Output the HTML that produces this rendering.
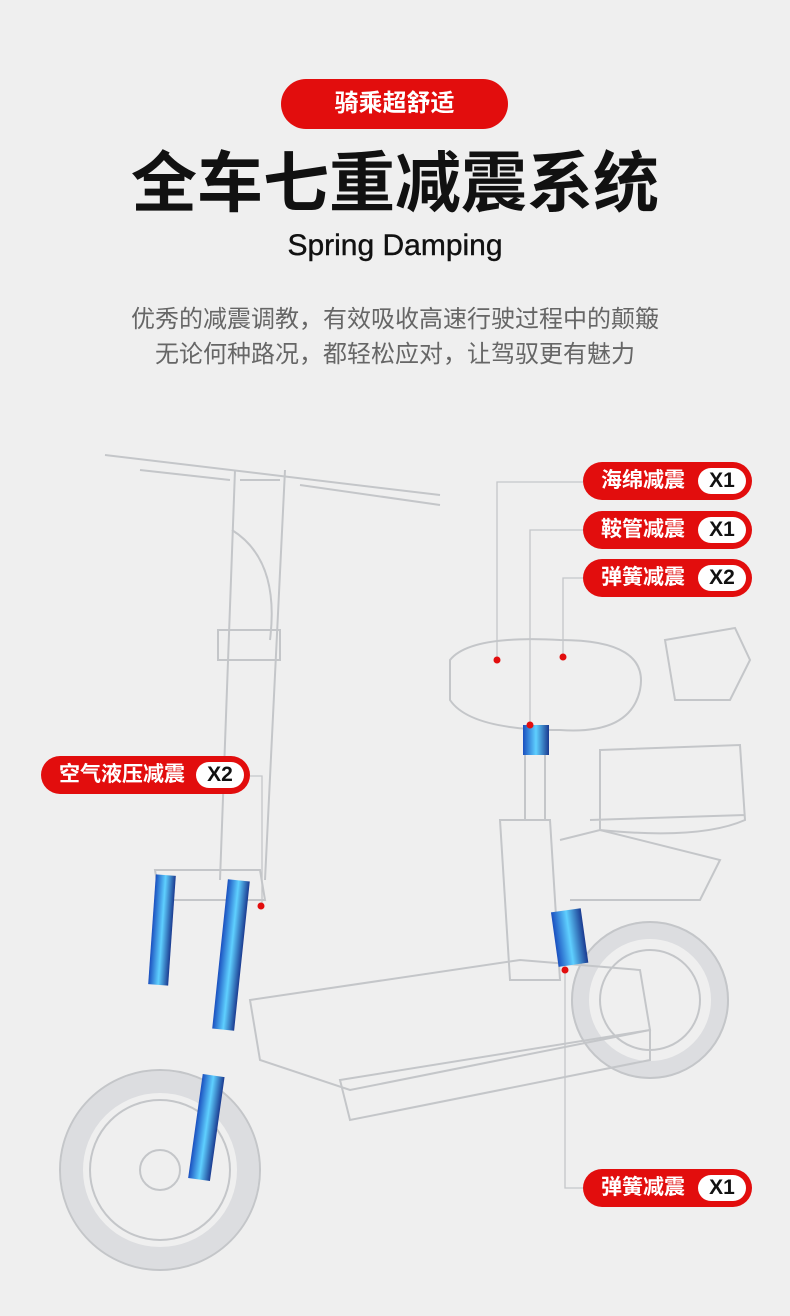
<!DOCTYPE html>
<html><head><meta charset="utf-8"><style>
body{margin:0;width:790px;height:1316px;background:#efefef;overflow:hidden;font-family:"Liberation Sans","Noto Sans CJK SC",sans-serif;position:relative}
.t{position:absolute;left:0;width:790px;text-align:center}
.pill{position:absolute;background:#e20d0d;border-radius:20px;height:38px;color:#fff;font-size:21px;font-weight:bold;line-height:38px;box-sizing:border-box;padding-left:18px;white-space:nowrap}
.pill span{position:absolute;right:6px;top:6px;height:26px;width:48px;background:#fff;border-radius:13px;color:#111;font-family:"Liberation Sans",sans-serif;font-size:21px;line-height:26px;text-align:center}
</style></head><body>
<div style="position:absolute;left:281px;top:79px;width:227px;height:50px;background:#e20d0d;border-radius:25px;color:#fff;font-size:24px;font-weight:bold;line-height:50px;text-align:center">骑乘超舒适</div>
<div class="t" style="top:140px;font-size:66px;font-weight:bold;color:#111;line-height:86px">全车七重减震系统</div>
<div class="t" style="top:229px;font-size:30px;color:#111;-webkit-text-stroke:0.4px #111">Spring Damping</div>
<div class="t" style="top:302px;font-size:24px;color:#666;line-height:35px">优秀的减震调教，有效吸收高速行驶过程中的颠簸<br>无论何种路况，都轻松应对，让驾驭更有魅力</div>
<svg width="790" height="1316" style="position:absolute;left:0;top:0" fill="none" stroke="#c4c6c9" stroke-width="2">
<path d="M105 455 L440 495 M140 470 L230 480 M300 485 L440 505"/>
<path d="M235 470 L220 880 M285 470 L265 880 M240 480 L280 480"/>
<path d="M232 530 Q280 560 270 640"/>
<rect x="218" y="630" width="62" height="30"/>
<path d="M155 870 L260 870 L265 900 L160 900 Z"/>
<circle cx="160" cy="1170" r="88" stroke-width="22" stroke="#dcdde0"/><circle cx="160" cy="1170" r="100"/><circle cx="160" cy="1170" r="70"/><circle cx="160" cy="1170" r="20"/>
<circle cx="650" cy="1000" r="70" stroke-width="18" stroke="#dcdde0"/><circle cx="650" cy="1000" r="78"/><circle cx="650" cy="1000" r="50"/>
<path d="M250 1000 L520 960 L640 970 L650 1030 L350 1090 L260 1060 Z"/>
<path d="M340 1080 L650 1030 L650 1060 L350 1120 Z"/>
<path d="M500 820 L550 820 L560 980 L510 980 Z"/>
<path d="M525 730 L525 820 M545 730 L545 820"/>
<path d="M450 660 Q470 635 560 640 Q650 640 640 690 Q630 735 560 730 Q470 730 450 700 Z"/>
<path d="M600 750 L740 745 L745 820 Q700 840 600 830 Z M590 820 L745 815"/>
<path d="M665 640 L735 628 L750 660 L730 700 L675 700 Z"/>
<path d="M560 840 L600 830 L720 860 L700 900 L570 900"/>
</svg>
<svg width="790" height="1316" style="position:absolute;left:0;top:0">
<defs><linearGradient id="b" x1="0" x2="1"><stop offset="0" stop-color="#1a4fbf"/><stop offset=".5" stop-color="#5fd0ff"/><stop offset="1" stop-color="#1a3a90"/></linearGradient></defs>
<rect x="152" y="875" width="20" height="110" fill="url(#b)" transform="rotate(4 162 930)"/>
<rect x="220" y="880" width="22" height="150" fill="url(#b)" transform="rotate(6 231 955)"/>
<rect x="195" y="1075" width="22" height="105" fill="url(#b)" transform="rotate(8 206 1130)"/>
<rect x="523" y="725" width="26" height="30" fill="url(#b)"/>
<rect x="555" y="910" width="30" height="55" fill="url(#b)" transform="rotate(-8 570 940)"/>
<g stroke="#c4c6c9" stroke-width="1.3" fill="none">
<path d="M583 482 H497 V660"/>
<path d="M583 530 H530 V725"/>
<path d="M583 578 H563 V657"/>
<path d="M583 1188 H565 V970"/>
<path d="M250 776 H262 V905"/>
</g>
<g fill="#e20d0d"><circle cx="497" cy="660" r="3.5"/><circle cx="530" cy="725" r="3.5"/><circle cx="563" cy="657" r="3.5"/><circle cx="565" cy="970" r="3.5"/><circle cx="261" cy="906" r="3.5"/></g>
</svg>
<div class="pill" style="left:583px;top:462px;width:169px">海绵减震<span>X1</span></div>
<div class="pill" style="left:583px;top:511px;width:169px">鞍管减震<span>X1</span></div>
<div class="pill" style="left:583px;top:559px;width:169px">弹簧减震<span>X2</span></div>
<div class="pill" style="left:583px;top:1169px;width:169px">弹簧减震<span>X1</span></div>
<div class="pill" style="left:41px;top:756px;width:209px">空气液压减震<span>X2</span></div>
</body></html>
